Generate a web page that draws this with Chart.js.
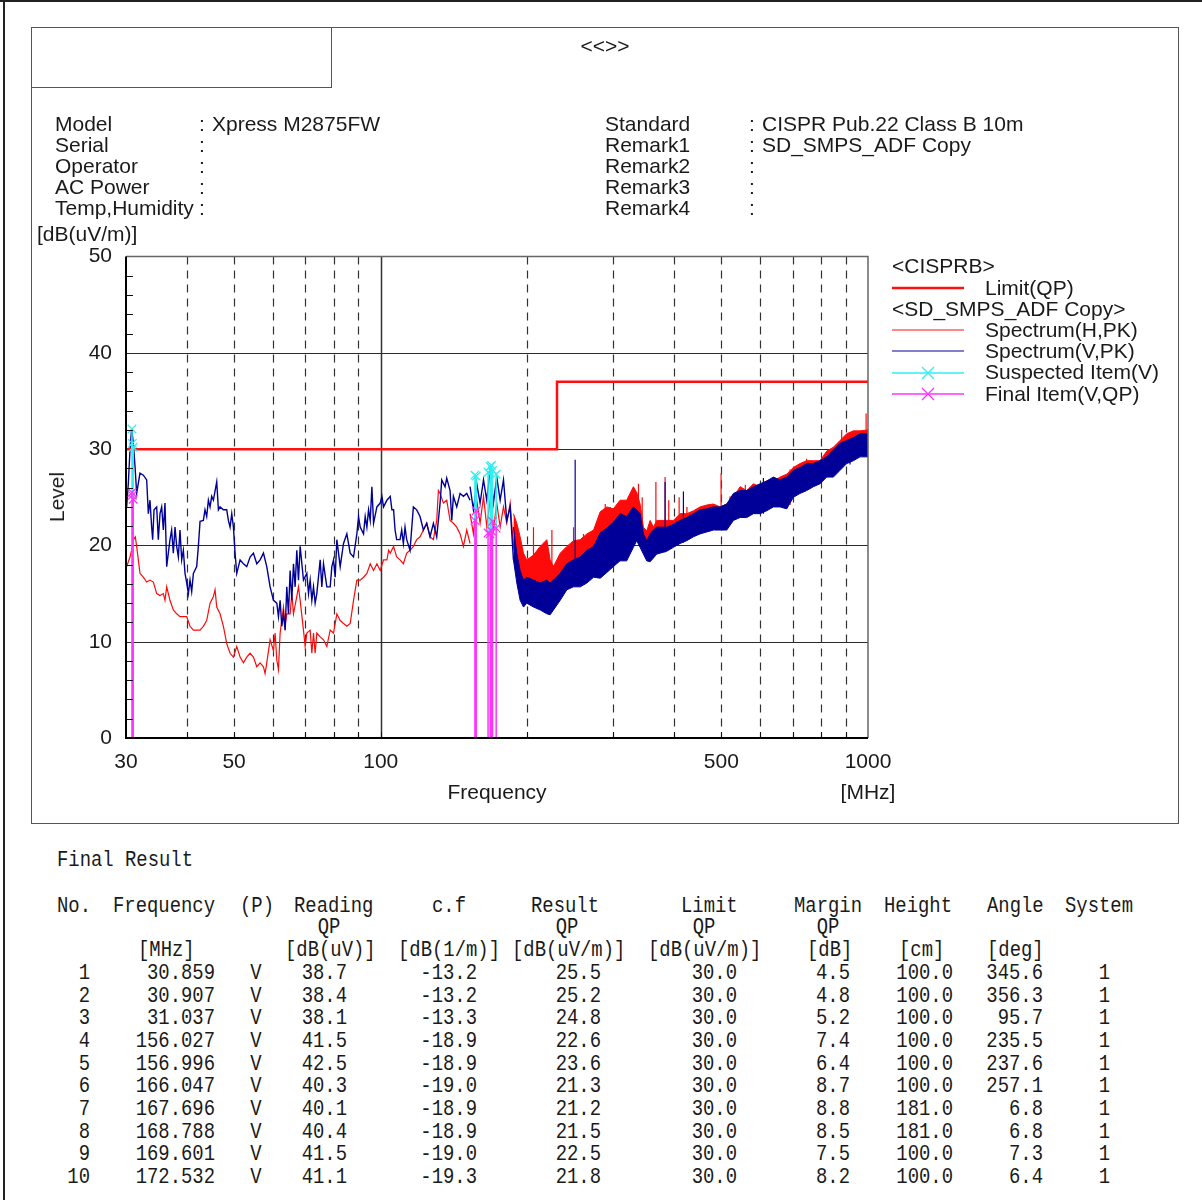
<!DOCTYPE html>
<html>
<head>
<meta charset="utf-8">
<title>Radiated emission - Xpress M2875FW</title>
<script src="https://cdn.jsdelivr.net/npm/chart.js@4.4.1/dist/chart.umd.min.js"></script>
<style>
  html, body { margin: 0; padding: 0; background: #fff; }
  body { width: 1202px; height: 1200px; position: relative; overflow: hidden; color: #1a1a1a;
         font-family: "Liberation Sans", Arial, sans-serif; }
  .lbl { position: absolute; white-space: pre; font-size: 21px; line-height: 24px; }
  .mono { position: absolute; white-space: pre; font-family: "Liberation Mono", monospace;
          font-size: 18.9px; line-height: 22px; }
  .box { position: absolute; box-sizing: border-box; }
  #chart { position: absolute; left: 30px; top: 230px; }
  #marks { position: absolute; left: 0; top: 0; }
</style>
</head>
<body>
<div class="box" style="left:0;top:0;width:1202px;height:2px;background:#222"></div>
<div class="box" style="left:3px;top:0;width:2px;height:1200px;background:#222"></div>
<div class="box" style="left:31px;top:27px;width:1148px;height:797px;border:1.5px solid #555"></div>
<div class="box" style="left:31px;top:27px;width:301px;height:61px;border:1.5px solid #555"></div>
<canvas id="chart" width="880" height="600"></canvas>
<svg id="marks" width="1202" height="420">
  <line x1="892" y1="288" x2="964" y2="288" stroke="#ff1010" stroke-width="2.5"/>
  <line x1="892" y1="330" x2="964" y2="330" stroke="#ff1010" stroke-width="1"/>
  <line x1="892" y1="351" x2="964" y2="351" stroke="#000099" stroke-width="1"/>
  <line x1="892" y1="373" x2="964" y2="373" stroke="#33eeee" stroke-width="1.5"/>
  <path d="M922 367 L934 379 M922 379 L934 367" stroke="#33eeee" stroke-width="1.3"/>
  <line x1="892" y1="394" x2="964" y2="394" stroke="#ff33ff" stroke-width="1.5"/>
  <path d="M922 388 L934 400 M922 400 L934 388" stroke="#ff33ff" stroke-width="1.3"/>
</svg>
<script>
// --- axes ---
const xLabelValues = [30, 50, 100, 500, 1000];
const xGridValues = [40, 50, 60, 70, 80, 90, 100, 200, 300, 400, 500, 600, 700, 800, 900];
const yLabelValues = [0, 10, 20, 30, 40, 50];
const yGridValues = [10, 20, 30, 40];
const yMinorValues = [2, 4, 6, 8, 12, 14, 16, 18, 22, 24, 26, 28, 32, 34, 36, 38, 42, 44, 46, 48];

// --- limit CISPR B 10m (QP) ---
const limitFreq = [30, 230, 230, 1000];
const limitLevel = [30, 30, 37, 37];

// --- spectrum H (PK), 30-152 MHz ---
const hLineFreq = [30.09, 30.57, 30.81, 31.06, 31.35, 31.55, 32.05, 32.56, 33.08, 33.60,
  34.14, 34.68, 35.23, 35.79, 36.07, 36.36, 36.93, 37.52, 38.12, 38.72,
  39.34, 39.97, 40.60, 41.25, 41.90, 42.57, 43.24, 43.93, 44.63, 45.34,
  45.70, 46.06, 46.79, 47.54, 48.29, 49.06, 49.84, 50.63, 51.44, 52.25,
  53.08, 53.93, 54.78, 55.66, 56.54, 57.44, 57.89, 58.35, 59.28, 60.22,
  60.70, 61.18, 61.66, 62.15, 63.14, 63.64, 64.14, 65.16, 65.68, 66.20,
  67.25, 67.78, 68.32, 69.40, 69.95, 70.51, 71.63, 72.20, 72.77, 73.34,
  73.92, 75.10, 76.29, 77.50, 78.74, 79.99, 81.26, 82.55, 83.86, 85.19,
  86.55, 87.92, 89.32, 90.74, 92.18, 93.65, 95.14, 96.65, 98.19, 99.75,
  101.33, 102.95, 103.80, 104.58, 106.24, 107.81, 109.53, 111.27, 113.04, 114.84,
  116.66, 118.51, 120.40, 122.31, 124.25, 126.23, 128.24, 130.27, 131.30, 132.35,
  134.45, 136.58, 138.75, 140.96, 143.20, 145.48, 147.79, 150.14, 152.5];
const hLineLevel = [17.8, 18.8, 19.5, 20.6, 20.9, 19.9, 17.1, 16.7, 16.2, 16.4,
  16.2, 15.0, 14.8, 15.0, 14.3, 15.7, 14.3, 13.3, 12.9, 12.6,
  12.6, 12.6, 11.6, 11.2, 11.2, 11.2, 11.6, 12.2, 14.0, 14.7,
  15.4, 13.6, 12.9, 11.6, 9.8, 8.8, 8.4, 9.5, 8.4, 7.8,
  8.4, 8.8, 8.4, 7.4, 7.8, 7.4, 6.7, 7.8, 10.2, 9.1,
  10.9, 8.1, 7.1, 10.9, 13.6, 11.6, 12.9, 12.9, 15.0, 12.9,
  14.7, 15.7, 14.3, 11.2, 9.5, 10.9, 11.2, 8.8, 10.9, 8.8,
  10.9, 10.5, 10.2, 9.5, 11.2, 10.9, 12.9, 12.2, 11.9, 11.6,
  11.9, 14.3, 16.4, 16.4, 16.7, 17.1, 18.1, 17.4, 18.1, 17.4,
  18.5, 18.5, 19.5, 19.2, 19.9, 18.8, 18.5, 18.1, 19.2, 19.5,
  19.9, 20.6, 20.9, 21.6, 22.3, 20.9, 20.6, 22.6, 25.7, 25.4,
  24.4, 24.7, 22.6, 22.3, 21.9, 21.2, 19.9, 21.6, 20.2];

// --- spectrum V (PK), 30-152 MHz ---
const vLineFreq = [30.09, 30.33, 30.57, 30.81, 31.06, 31.31, 31.55, 32.05, 32.56, 33.08,
  33.34, 33.60, 33.87, 34.03, 34.25, 34.68, 34.95, 35.23, 35.51, 35.79,
  36.07, 36.36, 36.93, 37.22, 37.52, 37.82, 38.12, 38.42, 38.72, 39.03,
  39.34, 39.65, 39.97, 40.28, 40.60, 40.92, 41.25, 41.90, 42.23, 42.57,
  43.24, 43.58, 43.93, 44.28, 44.63, 44.98, 45.34, 46.06, 46.43, 46.79,
  47.54, 48.29, 48.67, 49.06, 49.45, 49.84, 50.23, 50.63, 51.44, 52.25,
  53.08, 53.93, 54.78, 55.66, 56.54, 57.44, 58.35, 59.28, 60.22, 61.18,
  61.66, 62.15, 62.64, 63.14, 63.64, 64.14, 64.65, 65.16, 65.68, 66.20,
  66.72, 67.25, 67.78, 68.32, 69.40, 70.51, 71.07, 71.63, 72.20, 72.77,
  73.34, 73.92, 75.10, 75.69, 76.29, 77.50, 78.74, 79.36, 79.99, 80.62,
  81.26, 82.55, 83.86, 85.19, 86.55, 87.92, 89.32, 90.03, 90.74, 92.18,
  92.91, 93.65, 94.39, 95.14, 95.89, 96.65, 98.19, 99.75, 100.54, 101.33,
  102.95, 104.58, 105.41, 106.24, 107.0, 107.81, 109.53, 110.4, 111.27, 112.15,
  113.04, 114.84, 116.66, 118.51, 120.40, 122.31, 124.25, 126.23, 128.24, 130.27,
  132.35, 133.4, 135.5, 136.58, 138.75, 139.85, 140.96, 143.20, 145.48, 147.79,
  150.14, 152.5];
const vLineLevel = [24.0, 26.4, 29.9, 32.1, 30.6, 28.2, 25.4, 27.5, 27.3, 26.8,
  23.3, 24.7, 21.9, 20.6, 23.7, 24.0, 20.6, 23.3, 24.0, 21.6,
  24.4, 17.8, 20.6, 21.6, 19.2, 21.9, 19.9, 18.8, 21.6, 18.5,
  19.5, 17.1, 16.1, 15.0, 16.4, 15.2, 17.1, 17.8, 19.9, 22.5,
  22.6, 23.7, 23.0, 24.7, 24.0, 25.1, 24.7, 26.6, 23.7, 24.0,
  23.7, 23.7, 22.6, 21.9, 23.3, 21.9, 19.2, 17.1, 18.5, 18.1,
  17.8, 18.8, 19.2, 18.1, 18.5, 19.2, 17.8, 15.7, 14.3, 14.0,
  12.6, 14.3, 11.6, 12.9, 11.2, 15.7, 12.9, 17.4, 14.3, 18.1,
  15.7, 19.5, 16.4, 19.9, 16.4, 17.1, 15.0, 16.4, 14.3, 15.7,
  14.0, 15.0, 18.5, 15.7, 18.1, 15.7, 15.7, 17.8, 18.5, 16.7,
  20.6, 17.8, 20.2, 21.2, 19.2, 18.8, 21.2, 23.0, 21.9, 21.2,
  23.0, 21.9, 23.7, 22.6, 26.1, 22.3, 24.0, 24.4, 25.1, 24.0,
  24.7, 25.1, 23.7, 23.7, 21.6, 20.6, 20.6, 21.6, 20.2, 21.9,
  20.6, 19.5, 24.0, 23.7, 23.0, 21.6, 22.3, 20.9, 22.3, 20.9,
  24.4, 26.8, 26.1, 27.0, 25.7, 22.6, 25.1, 24.0, 25.4, 25.1,
  25.4, 24.7];

// --- 152-1000 MHz: dense sweep, read as upper / lower edge of each trace ---
const bandFreq = [152.5, 154.95, 157.4, 159.9, 162.5, 165.0, 167.7, 170.3, 173.0, 175.8,
  178.6, 181.4, 184.3, 187.2, 190.2, 193.2, 196.3, 199.4, 205.8, 212.4,
  219.2, 222.7, 226.2, 233.5, 241.0, 248.7, 256.7, 264.9, 273.4, 282.1,
  291.2, 300.2, 309.8, 319.7, 330.0, 335.2, 340.6, 346.0, 351.5, 357.1,
  362.8, 368.5, 386.4, 398.7, 411.5, 424.7, 438.3, 452.3, 466.7, 481.7,
  497.1, 513.0, 529.4, 546.4, 563.8, 581.9, 600.5, 619.6, 639.4, 659.9,
  681.0, 702.8, 725.3, 748.5, 772.5, 797.2, 822.7, 849.1, 876.2, 904.3,
  933.2, 963.1, 1000];
const vHigh = [26.1, 25.4, 26.4, 27.0, 26.8, 27.1, 27.8, 27.5, 27.1, 27.3,
  26.8, 25.4, 24.0, 21.9, 19.2, 17.4, 16.4, 16.7, 16.4, 16.1,
  16.4, 16.1, 16.4, 17.1, 18.1, 18.5, 18.8, 19.5, 19.9, 21.3,
  21.8, 22.4, 23.3, 23.0, 24.0, 23.7, 23.3, 21.2, 20.5, 21.2,
  21.6, 21.9, 21.9, 22.2, 22.6, 22.9, 23.3, 23.7, 23.8, 24.0,
  24.0, 24.3, 25.4, 25.7, 25.7, 26.1, 26.4, 26.7, 27.1, 26.8,
  27.1, 27.8, 28.1, 28.5, 28.5, 28.8, 29.2, 29.9, 30.6, 30.9,
  31.2, 31.6, 31.6];
const vLow = [23.3, 23.7, 24.0, 24.4, 24.4, 24.7, 25.1, 24.4, 24.7, 24.7,
  24.0, 22.6, 20.6, 18.5, 16.1, 14.3, 13.6, 14.0, 13.6, 13.3,
  12.9, 12.8, 13.3, 14.3, 15.4, 15.7, 15.7, 16.1, 16.7, 16.6,
  17.2, 17.8, 18.4, 18.4, 19.8, 20.5, 19.8, 19.1, 18.4, 18.3,
  18.7, 19.1, 19.4, 19.8, 20.2, 20.5, 20.9, 21.2, 21.4, 21.6,
  21.6, 21.6, 22.6, 22.9, 22.9, 23.3, 23.3, 23.6, 24.0, 24.0,
  23.8, 25.0, 25.4, 25.7, 26.1, 26.4, 27.1, 27.1, 27.8, 28.5,
  28.8, 29.2, 29.2];
const hHigh = [23.3, 24.0, 24.7, 24.4, 25.1, 25.1, 24.7, 24.7, 24.4, 24.0,
  24.0, 24.7, 24.4, 23.3, 22.3, 20.9, 19.2, 18.5, 19.0, 19.9,
  20.6, 18.5, 17.8, 19.2, 19.9, 20.5, 20.6, 21.2, 21.6, 23.5,
  24.0, 23.8, 24.7, 24.7, 26.1, 25.5, 24.3, 21.9, 21.5, 22.6,
  21.9, 22.6, 22.6, 22.6, 23.3, 23.3, 23.6, 24.0, 24.2, 24.3,
  24.0, 24.3, 25.0, 26.1, 25.7, 26.4, 26.1, 26.7, 26.7, 27.1,
  27.4, 28.1, 28.5, 28.8, 28.8, 28.8, 29.8, 30.2, 30.9, 31.6,
  31.9, 31.9, 32.0];
const hLow = [20.2, 21.2, 21.9, 22.3, 22.6, 22.0, 21.9, 21.6, 21.6, 21.9,
  22.3, 22.3, 21.6, 19.9, 18.5, 17.1, 16.4, 15.7, 15.7, 15.7,
  15.4, 15.0, 15.0, 15.7, 16.4, 17.1, 17.1, 17.4, 17.8, 18.5,
  18.8, 19.2, 19.5, 19.5, 20.5, 21.2, 20.5, 19.5, 19.0, 19.0,
  19.2, 19.5, 19.8, 20.2, 20.6, 20.9, 21.2, 21.6, 21.8, 21.9,
  21.9, 21.9, 22.9, 23.2, 23.2, 23.6, 23.6, 23.9, 24.3, 24.3,
  24.1, 25.3, 25.7, 26.0, 26.4, 26.7, 27.4, 27.4, 28.1, 28.8,
  29.1, 29.5, 29.5];
const solidFrom = 13; // above ~187 MHz the sweep is so dense it reads as a solid band

// narrow spikes sticking out of the dense sweep
const hSpikeFreq = [205.8, 224.5, 248.7, 260.7, 282.1, 288.9, 295.8, 338.0, 344.0, 367.0,
  383.3, 390.0, 409.6, 425.0, 452.3, 466.7, 499.4, 521.0, 560.0, 634.6,
  692.0, 719.0, 748.0, 800.0, 836.0, 883.0, 964.0, 991.1];
const hSpikeTop = [21.9, 21.6, 21.9, 21.2, 23.0, 24.3, 24.0, 26.4, 25.0, 26.6,
  27.1, 24.7, 25.0, 24.0, 24.0, 24.0, 27.5, 25.1, 26.3, 26.8,
  27.9, 28.0, 29.0, 28.9, 29.9, 32.0, 31.8, 33.7];
const hSpikeBase = [15.7, 15.0, 17.1, 17.2, 18.5, 18.6, 18.9, 21.0, 19.5, 19.4,
  19.8, 20.0, 20.6, 20.9, 21.6, 21.8, 21.9, 22.5, 23.2, 24.3,
  24.2, 25.5, 26.0, 26.7, 27.4, 28.1, 29.5, 29.5];
const vSpikeFreq = [250.6, 383.3, 418.0, 610.0, 655.0, 918.6];
const vSpikeTop = [28.9, 26.6, 25.6, 27.0, 26.8, 30.8];
const vSpikeBase = [15.8, 19.3, 20.3, 23.3, 24.0, 28.4];

// --- final result table ---
const finalNo = [1, 2, 3, 4, 5, 6, 7, 8, 9, 10];
const finalFreq = [30.859, 30.907, 31.037, 156.027, 156.996, 166.047, 167.696, 168.788, 169.601, 172.532];
const finalPol = ['V', 'V', 'V', 'V', 'V', 'V', 'V', 'V', 'V', 'V'];
const finalReading = [38.7, 38.4, 38.1, 41.5, 42.5, 40.3, 40.1, 40.4, 41.5, 41.1];
const finalCf = [-13.2, -13.2, -13.3, -18.9, -18.9, -19.0, -18.9, -18.9, -19.0, -19.3];
const finalResult = [25.5, 25.2, 24.8, 22.6, 23.6, 21.3, 21.2, 21.5, 22.5, 21.8];
const finalLimit = [30.0, 30.0, 30.0, 30.0, 30.0, 30.0, 30.0, 30.0, 30.0, 30.0];
const finalMargin = [4.5, 4.8, 5.2, 7.4, 6.4, 8.7, 8.8, 8.5, 7.5, 8.2];
const finalHeight = [100.0, 100.0, 100.0, 100.0, 100.0, 100.0, 181.0, 181.0, 100.0, 100.0];
const finalAngle = [345.6, 356.3, 95.7, 235.5, 237.6, 257.1, 6.8, 6.8, 7.3, 6.4];
const finalSystem = [1, 1, 1, 1, 1, 1, 1, 1, 1, 1];
// peak level of the suspected items (cyan)
const suspectLevel = [32.1, 30.6, 30.2, 27.3, 27.2, 27.6, 28.2, 28.3, 27.8, 27.4];

// ---------- text ----------
function put(txt, x, y, align, cls, extra) {
  const d = document.createElement('div');
  d.className = cls || 'lbl';
  d.textContent = txt;
  d.style.left = x + 'px';
  d.style.top = y + 'px';
  const tx = align === 'r' ? '-100%' : align === 'c' ? '-50%' : '0';
  d.style.transform = 'translate(' + tx + ', -50%)' + (extra || '');
  document.body.appendChild(d);
}

put('<<>>', 605, 46, 'c');
const infoLeft = [['Model', 'Xpress M2875FW'], ['Serial', ''], ['Operator', ''], ['AC Power', ''], ['Temp,Humidity', '']];
const infoRight = [['Standard', 'CISPR Pub.22 Class B 10m'], ['Remark1', 'SD_SMPS_ADF Copy'], ['Remark2', ''], ['Remark3', ''], ['Remark4', '']];
infoLeft.forEach((r, i) => {
  const y = 124 + i * 21;
  put(r[0], 55, y); put(':', 199, y); put(r[1], 212, y);
});
infoRight.forEach((r, i) => {
  const y = 124 + i * 21;
  put(r[0], 605, y); put(':', 749, y); put(r[1], 762, y);
});
put('[dB(uV/m)]', 37, 234);
put('Level', 57, 497, 'c', 'lbl', ' rotate(-90deg)');
put('Frequency', 497, 792, 'c');
put('[MHz]', 868, 792, 'c');

put('<CISPRB>', 892, 266);
put('Limit(QP)', 985, 288);
put('<SD_SMPS_ADF Copy>', 892, 309);
put('Spectrum(H,PK)', 985, 330);
put('Spectrum(V,PK)', 985, 351);
put('Suspected Item(V)', 985, 372);
put('Final Item(V,QP)', 985, 394);

// table
const sy = ' scaleY(1.15)';
put('Final Result', 57, 860, 'l', 'mono', sy);
[['No.', 57], ['Frequency', 113], ['(P)', 240], ['Reading', 294], ['c.f', 432], ['Result', 531],
 ['Limit', 681], ['Margin', 794], ['Height', 884], ['Angle', 987], ['System', 1065]]
  .forEach(h => put(h[0], h[1], 906, 'l', 'mono', sy));
[329, 567, 704, 828].forEach(x => put('QP', x, 927, 'c', 'mono', sy));
[['[MHz]', 138], ['[dB(uV)]', 285], ['[dB(1/m)]', 398], ['[dB(uV/m)]', 512], ['[dB(uV/m)]', 648],
 ['[dB]', 807], ['[cm]', 899], ['[deg]', 987]]
  .forEach(h => put(h[0], h[1], 950, 'l', 'mono', sy));
finalNo.forEach((n, i) => {
  const y = 973 + i * 22.67;
  put(String(n), 90, y, 'r', 'mono', sy);
  put(finalFreq[i].toFixed(3), 215, y, 'r', 'mono', sy);
  put(finalPol[i], 256, y, 'c', 'mono', sy);
  put(finalReading[i].toFixed(1), 347, y, 'r', 'mono', sy);
  put(finalCf[i].toFixed(1), 477, y, 'r', 'mono', sy);
  put(finalResult[i].toFixed(1), 601, y, 'r', 'mono', sy);
  put(finalLimit[i].toFixed(1), 737, y, 'r', 'mono', sy);
  put(finalMargin[i].toFixed(1), 850, y, 'r', 'mono', sy);
  put(finalHeight[i].toFixed(1), 953, y, 'r', 'mono', sy);
  put(finalAngle[i].toFixed(1), 1043, y, 'r', 'mono', sy);
  put(String(finalSystem[i]), 1110, y, 'r', 'mono', sy);
});

// ---------- chart ----------
const pts = (xs, ys) => xs.map((f, i) => ({ x: f, y: ys[i] }));
// noisy part of the sweep: alternate between the read upper and lower edge
const zigzag = (xs, hi, lo) => xs.map((f, i) => ({ x: f, y: i % 2 ? lo[i] : hi[i] }));
const sticks = (xs, lo, hi) => xs.flatMap((f, i) => [{ x: f, y: lo[i] }, { x: f, y: hi[i] }, { x: f, y: null }]);
const zeros = finalFreq.map(() => 0);
const cut = a => a.slice(0, solidFrom + 1);
const rest = a => a.slice(solidFrom);

const RED = '#ff0a0a', NAVY = '#000099', CYAN = '#33eeee', MAG = '#ff33ff';
const line = (data, color, order, extra) => Object.assign({
  data, borderColor: color, backgroundColor: color, borderWidth: 1.2,
  pointRadius: 0, fill: false, spanGaps: false, order
}, extra);

const datasets = [
  line(pts(hLineFreq, hLineLevel), RED, 10),
  line(zigzag(cut(bandFreq), cut(hHigh), cut(hLow)), RED, 10),
  line(pts(rest(bandFreq), rest(hHigh)), RED, 10, { borderWidth: 1 }),
  line(pts(rest(bandFreq), rest(hLow)), RED, 10, { borderWidth: 1, fill: '-1' }),
  line(sticks(hSpikeFreq, hSpikeBase, hSpikeTop), RED, 9),
  line(pts(vLineFreq, vLineLevel), NAVY, 7, { borderWidth: 1.4 }),
  line(zigzag(cut(bandFreq), cut(vHigh), cut(vLow)), NAVY, 7, { borderWidth: 1.4 }),
  line(pts(rest(bandFreq), rest(vHigh)), NAVY, 7, { borderWidth: 1 }),
  line(pts(rest(bandFreq), rest(vLow)), NAVY, 7, { borderWidth: 1, fill: '-1' }),
  line(sticks(vSpikeFreq, vSpikeBase, vSpikeTop), NAVY, 6),
  line(pts(limitFreq, limitLevel), '#ff1010', 5, { borderWidth: 2.5 }),
  line(sticks(finalFreq, zeros, finalResult), MAG, 4, { borderWidth: 1.5 }),
  line(sticks(finalFreq, finalResult, suspectLevel), CYAN, 3, { borderWidth: 1.5 }),
  line(pts(finalFreq, finalResult), MAG, 2, { showLine: false, pointStyle: 'crossRot', pointRadius: 6, pointBorderWidth: 1.3 }),
  line(pts(finalFreq, suspectLevel), CYAN, 1, { showLine: false, pointStyle: 'crossRot', pointRadius: 6, pointBorderWidth: 1.3 })
];

const gridPlugin = {
  id: 'emcGrid',
  beforeDatasetsDraw(chart) {
    const { ctx, chartArea: a, scales: { x, y } } = chart;
    ctx.save();
    ctx.lineWidth = 1;
    ctx.strokeStyle = '#2a2a2a';
    yGridValues.forEach(v => {
      const p = Math.round(y.getPixelForValue(v)) + 0.5;
      ctx.beginPath(); ctx.moveTo(a.left, p); ctx.lineTo(a.right, p); ctx.stroke();
    });
    ctx.strokeStyle = '#333';
    xGridValues.forEach(v => {
      const p = Math.round(x.getPixelForValue(v)) + 0.5;
      ctx.setLineDash(v === 100 ? [] : [8, 6]);
      ctx.lineWidth = v === 100 ? 1.5 : 1.2;
      ctx.beginPath(); ctx.moveTo(p, a.top); ctx.lineTo(p, a.bottom); ctx.stroke();
    });
    ctx.restore();
  },
  afterDatasetsDraw(chart) {
    const { ctx, chartArea: a, scales: { x, y } } = chart;
    ctx.save();
    ctx.strokeStyle = '#111';
    ctx.lineWidth = 1;
    yMinorValues.forEach(v => {
      const p = Math.round(y.getPixelForValue(v)) + 0.5;
      ctx.beginPath(); ctx.moveTo(a.left, p); ctx.lineTo(a.left + 7, p); ctx.stroke();
    });
    xGridValues.forEach(v => {
      const p = Math.round(x.getPixelForValue(v)) + 0.5;
      ctx.beginPath(); ctx.moveTo(p, a.bottom); ctx.lineTo(p, a.bottom - 6); ctx.stroke();
    });
    ctx.strokeStyle = '#666';
    ctx.lineWidth = 1.5;
    ctx.beginPath();
    ctx.moveTo(a.left, a.top); ctx.lineTo(a.right, a.top); ctx.lineTo(a.right, a.bottom);
    ctx.stroke();
    ctx.strokeStyle = '#000';
    ctx.lineWidth = 2;
    ctx.beginPath();
    ctx.moveTo(a.left, a.top); ctx.lineTo(a.left, a.bottom); ctx.lineTo(a.right, a.bottom);
    ctx.stroke();
    ctx.restore();
  }
};

const tickFont = { family: 'Liberation Sans', size: 21 };
new Chart(document.getElementById('chart'), {
  type: 'line',
  data: { datasets },
  options: {
    responsive: false,
    animation: false,
    layout: { padding: { top: 16, right: 42, bottom: 0, left: 0 } },
    plugins: { legend: { display: false }, tooltip: { enabled: false } },
    elements: { line: { tension: 0 } },
    scales: {
      x: {
        type: 'logarithmic', min: 30, max: 1000,
        grid: { display: false, drawTicks: false },
        border: { display: false },
        afterBuildTicks: s => { s.ticks = xLabelValues.map(v => ({ value: v })); },
        afterFit: s => { s.height = 92; },
        ticks: { autoSkip: false, maxRotation: 0, padding: 12, color: '#1a1a1a', font: tickFont,
                 callback: v => String(v) }
      },
      y: {
        min: 0, max: 50,
        grid: { display: false, drawTicks: false },
        border: { display: false },
        afterBuildTicks: s => { s.ticks = yLabelValues.map(v => ({ value: v })); },
        afterFit: s => { s.width = 96; },
        ticks: { padding: 14, color: '#1a1a1a', font: tickFont, callback: v => String(v) }
      }
    }
  },
  plugins: [gridPlugin]
});
</script>
</body>
</html>
